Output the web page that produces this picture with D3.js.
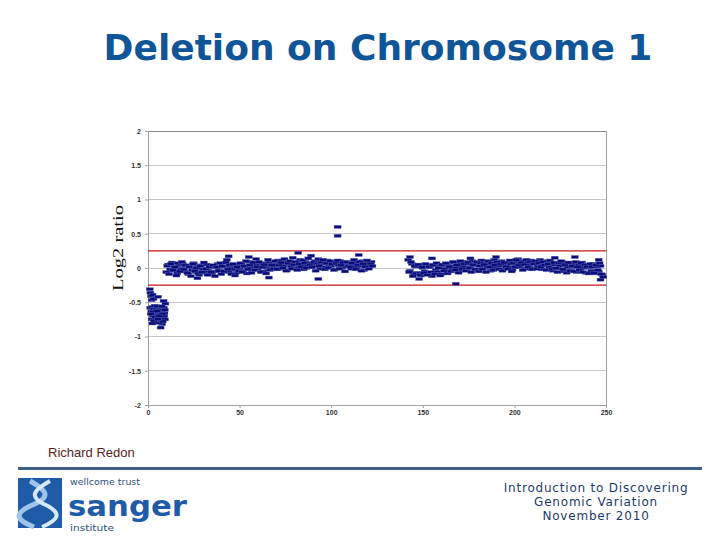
<!DOCTYPE html>
<html>
<head>
<meta charset="utf-8">
<script src="https://cdn.jsdelivr.net/npm/d3@7"></script>
<style>
  html, body { margin: 0; padding: 0; background: #fff; }
  svg { display: block; }
</style>
</head>
<body>
<div id="chart-area"></div>
<script>
// log2 ratio per probe, chromosome 1 (position in Mb)
var deletion = [[1.0,-0.31],[1.3,-0.36],[1.6,-0.41],[2.0,-0.47],[2.5,-0.39],[3.0,-0.45],[5.5,-0.42],[8.5,-0.48],[9.5,-0.52],
  [1.2,-0.58],[1.8,-0.63],[2.2,-0.57],[2.6,-0.70],[3.1,-0.60],[3.4,-0.66],[3.8,-0.74],[4.2,-0.59],[4.5,-0.68],[4.9,-0.79],
  [5.2,-0.62],[5.6,-0.71],[6.0,-0.57],[6.3,-0.65],[6.7,-0.76],[7.0,-0.60],[7.3,-0.69],[7.7,-0.82],[8.0,-0.63],[8.3,-0.72],
  [8.7,-0.58],[9.0,-0.66],[9.3,-0.75],[2.0,-0.75],[2.9,-0.64],[3.6,-0.55],[4.0,-0.72],[5.0,-0.56],[5.9,-0.80],[6.5,-0.61],
  [7.5,-0.56],[8.1,-0.78],[9.2,-0.61],[6.9,-0.87],[4.7,-0.63],[3.2,-0.77],[1.5,-0.67],[8.9,-0.70],[7.9,-0.67],[5.4,-0.74],
  [2.4,-0.81],[6.2,-0.70]];

var pArmStart = 10;
var pArmA = [-0.06,0.05,-0.02,0.08,-0.04,0.02,-0.08,0.04,-0.01,0.06,
  -0.05,0.03,-0.09,0.01,-0.03,0.07,-0.06,0.02,-0.10,0.04,
  -0.02,-0.07,0.05,-0.04,0.01,-0.08,0.03,-0.05,0.06,-0.03,
  -0.09,0.02,-0.04,0.12,-0.06,0.00,-0.02,0.05,-0.07,0.03,
  -0.01,0.06,-0.04,0.02,-0.08,0.09,0.00,-0.03,0.05,0.13,
  -0.02,0.04,0.07,-0.05,0.03,0.00,0.08,-0.02,0.06,0.01,
  0.05,0.11,-0.01,0.07,0.03,0.09,-0.03,0.06,0.02,0.15,
  0.04,0.08,0.00,0.12,0.05,-0.02,0.09,0.03,0.07,0.18,
  0.02,0.10,0.04,0.13,-0.01,0.06,0.08,0.01,0.11,0.05,
  0.03,0.09,-0.02,0.06,0.04,0.10,0.00,0.07,0.02,0.05,
  0.08,-0.01,0.04,0.09,0.01,0.06,0.03,0.10,-0.03,0.05,
  0.07,0.02,0.09];
var pArmB = [0.03,-0.09,0.06,-0.03,0.01,-0.11,0.07,-0.05,0.09,-0.02,
  0.04,-0.07,0.02,-0.12,0.06,-0.04,0.00,-0.08,0.03,-0.06,
  0.08,-0.01,-0.10,0.02,-0.06,0.04,-0.12,0.01,-0.04,0.07,
  0.03,-0.05,0.08,-0.02,0.04,-0.09,0.06,-0.11,0.01,-0.04,
  0.07,-0.06,0.03,0.10,-0.02,0.04,-0.07,0.08,-0.03,0.02,
  0.09,-0.06,0.01,0.05,-0.08,0.12,-0.03,0.04,-0.01,0.10,
  -0.02,0.04,0.08,0.00,0.13,-0.04,0.07,0.10,-0.01,0.05,
  0.09,-0.03,0.06,0.02,0.11,0.07,0.00,0.14,0.04,0.01,
  0.08,-0.04,0.06,0.03,0.09,0.12,-0.02,0.07,0.00,0.10,
  0.06,-0.03,0.08,0.11,-0.01,0.04,0.08,-0.05,0.09,0.03,
  0.01,0.07,0.12,-0.02,0.05,0.09,-0.04,0.06,0.02,0.11,
  -0.01,0.06,0.03];

var qArmStart = 142;
var qArmA = [0.12,-0.04,0.06,-0.09,0.02,-0.07,0.04,-0.11,0.00,-0.05,
  0.03,-0.08,0.01,-0.12,0.05,-0.03,-0.06,0.02,-0.09,0.04,
  -0.01,0.06,-0.05,0.03,-0.02,0.08,0.00,0.05,-0.04,0.07,
  0.02,0.09,-0.03,0.06,0.01,0.10,0.04,-0.02,0.08,0.03,
  0.11,-0.01,0.06,0.02,0.09,-0.04,0.05,0.12,0.00,0.07,
  0.03,0.10,-0.02,0.05,0.08,0.01,0.06,-0.03,0.09,0.04,
  0.13,0.02,0.07,0.10,-0.01,0.08,0.04,0.11,0.06,0.00,
  0.09,0.03,0.12,-0.02,0.07,0.04,0.10,0.01,0.06,-0.04,
  0.05,0.08,-0.01,0.03,0.09,-0.05,0.04,0.01,0.07,-0.03,
  0.02,0.06,-0.06,0.04,-0.02,0.08,0.00,-0.07,0.05,0.01,
  -0.04,0.06,-0.08,0.02,-0.05,0.03,-0.10];
var qArmB = [-0.06,0.09,-0.12,0.03,-0.08,0.05,-0.10,0.01,-0.07,0.06,
  -0.10,0.02,-0.06,0.04,-0.09,0.07,0.00,-0.11,0.05,-0.04,
  0.07,-0.08,0.02,-0.05,0.09,-0.03,0.04,-0.07,0.10,-0.01,
  0.06,-0.04,0.08,0.00,-0.06,0.05,-0.02,0.09,-0.05,0.07,
  -0.02,0.05,-0.06,0.10,0.01,0.07,-0.03,0.04,0.09,-0.02,
  0.06,-0.04,0.08,0.02,-0.01,0.11,-0.05,0.07,0.01,0.10,
  0.04,0.08,-0.03,0.05,0.12,0.01,0.09,-0.02,0.06,0.10,
  -0.01,0.07,0.02,0.09,0.04,-0.03,0.06,0.11,-0.02,0.08,
  0.00,-0.06,0.07,0.10,-0.02,0.05,-0.07,0.08,-0.04,0.03,
  -0.05,0.09,0.01,-0.03,0.07,-0.06,0.04,0.02,-0.08,0.06,
  0.02,-0.07,0.04,-0.03,0.07,-0.09,-0.13];

var outliers = [[103.5,0.60],[103.5,0.47],[44,0.17],[55,0.16],[82,0.22],[93,-0.16],[66,-0.14],[27,-0.15],[115,0.19],
  [143,0.16],[168,-0.23],[176,0.14],[190,0.16],[201,0.12],[222,0.15],[233,0.16],[246,0.12],[247,-0.17],[148,-0.16],[155,0.14]];

var xTicks = [0, 50, 100, 150, 200, 250];
var yTicks = [2, 1.5, 1, 0.5, 0, -0.5, -1, -1.5, -2];
var thresholds = [0.25, -0.25];

// build probe list
var probes = deletion.slice();
pArmA.forEach(function(v, i) { probes.push([pArmStart + i, v]); });
pArmB.forEach(function(v, i) { probes.push([pArmStart + i + 0.5, v]); });
qArmA.forEach(function(v, i) { probes.push([qArmStart + i, v]); });
qArmB.forEach(function(v, i) { probes.push([qArmStart + i + 0.5, v]); });
probes = probes.concat(outliers);

var svg = d3.select("#chart-area").append("svg")
  .attr("width", 720)
  .attr("height", 540);

svg.append("rect").attr("width", 720).attr("height", 540).attr("fill", "#fff");

svg.append("text")
  .attr("x", 378).attr("y", 60)
  .attr("text-anchor", "middle")
  .attr("font-family", "DejaVu Sans").attr("font-weight", "bold")
  .attr("font-size", 36)
  .attr("fill", "#0f5597")
  .text("Deletion on Chromosome 1");

var x = d3.scaleLinear().domain([0, 250]).range([148, 606]);
var y = d3.scaleLinear().domain([-2, 2]).range([405, 131]);

// grid
svg.append("g").selectAll("line").data(yTicks).enter().append("line")
  .attr("x1", x(0)).attr("x2", x(250))
  .attr("y1", function(d) { return y(d); }).attr("y2", function(d) { return y(d); })
  .attr("stroke", function(d) { return d === 2 ? "#8c8c8c" : "#c8c8c8"; })
  .attr("stroke-width", 1)
  .attr("shape-rendering", "crispEdges");

svg.append("line").attr("x1", x(250)).attr("x2", x(250)).attr("y1", y(2)).attr("y2", y(-2))
  .attr("stroke", "#a0a0a0").attr("shape-rendering", "crispEdges");

var xAxis = svg.append("g").attr("transform", "translate(0," + y(-2) + ")")
  .call(d3.axisBottom(x).tickValues(xTicks).tickSize(3).tickPadding(2));
var yAxis = svg.append("g").attr("transform", "translate(" + x(0) + ",0)")
  .call(d3.axisLeft(y).tickValues(yTicks).tickSize(3).tickPadding(4).tickFormat(function(d) { return String(d); }));
[xAxis, yAxis].forEach(function(a) {
  a.select(".domain").attr("stroke", "#a0a0a0").attr("shape-rendering", "crispEdges");
  a.selectAll(".tick line").attr("stroke", "#a0a0a0");
  a.selectAll("text").attr("font-family", "Liberation Sans, Arial").attr("font-size", 7)
    .attr("font-weight", "bold").attr("fill", "#333");
});

// threshold lines
svg.append("g").selectAll("line").data(thresholds).enter().append("line")
  .attr("x1", x(0)).attr("x2", x(250))
  .attr("y1", function(d) { return y(d); }).attr("y2", function(d) { return y(d); })
  .attr("stroke", "#c81818").attr("stroke-width", 1.2);

// probes as short dashes
svg.append("g").selectAll("rect").data(probes).enter().append("rect")
  .attr("x", function(d) { return x(d[0]) - 3.5; })
  .attr("y", function(d) { return y(d[1]) - 1.5; })
  .attr("width", 7).attr("height", 3)
  .attr("fill", "#0c0c78")
  .attr("stroke", "#5a68b8").attr("stroke-width", 0.4);

svg.append("text")
  .attr("transform", "translate(123,248) rotate(-90)")
  .attr("text-anchor", "middle")
  .attr("font-family", "Liberation Serif").attr("font-size", 15)
  .attr("textLength", 86).attr("lengthAdjust", "spacingAndGlyphs")
  .attr("fill", "#111")
  .text("Log2 ratio");

svg.append("text")
  .attr("x", 48).attr("y", 457)
  .attr("font-family", "Liberation Sans").attr("font-size", 13)
  .attr("fill", "#5a1c1c")
  .text("Richard Redon");

// footer
svg.append("rect").attr("x", 18).attr("y", 467).attr("width", 684).attr("height", 3).attr("fill", "#3f5f86");

var logo = svg.append("g");
logo.append("rect").attr("x", 18).attr("y", 478).attr("width", 44).attr("height", 50).attr("fill", "#1f5ba6");
logo.append("path").attr("d", "M30 481 C50 492 50 498 30 506 C14 514 16 520 34 527")
  .attr("fill", "none").attr("stroke", "#9cc4ec").attr("stroke-width", 5);
logo.append("path").attr("d", "M50 481 C30 492 30 498 48 506 C62 514 58 520 42 527")
  .attr("fill", "none").attr("stroke", "#d6e8f8").attr("stroke-width", 4);
logo.append("text").attr("x", 70).attr("y", 485).attr("font-family", "DejaVu Sans").attr("font-size", 9)
  .attr("textLength", 70).attr("lengthAdjust", "spacingAndGlyphs")
  .attr("fill", "#2b4f86").text("wellcome trust");
logo.append("text").attr("x", 68).attr("y", 516).attr("font-family", "DejaVu Sans").attr("font-size", 29)
  .attr("font-weight", "bold").attr("textLength", 119).attr("lengthAdjust", "spacingAndGlyphs")
  .attr("fill", "#1f5ba6").text("sanger");
logo.append("text").attr("x", 70).attr("y", 531).attr("font-family", "DejaVu Sans").attr("font-size", 9)
  .attr("textLength", 44).attr("lengthAdjust", "spacingAndGlyphs")
  .attr("fill", "#2b4f86").text("institute");

var footer = ["Introduction to Discovering", "Genomic Variation", "November 2010"];
svg.append("g").selectAll("text").data(footer).enter().append("text")
  .attr("x", 596).attr("y", function(d, i) { return 492 + i * 14; })
  .attr("text-anchor", "middle")
  .attr("font-family", "DejaVu Sans")
  .attr("font-size", 12)
  .attr("letter-spacing", 0.8)
  .attr("fill", "#1b3a6e")
  .text(function(d) { return d; });
</script>
</body>
</html>
